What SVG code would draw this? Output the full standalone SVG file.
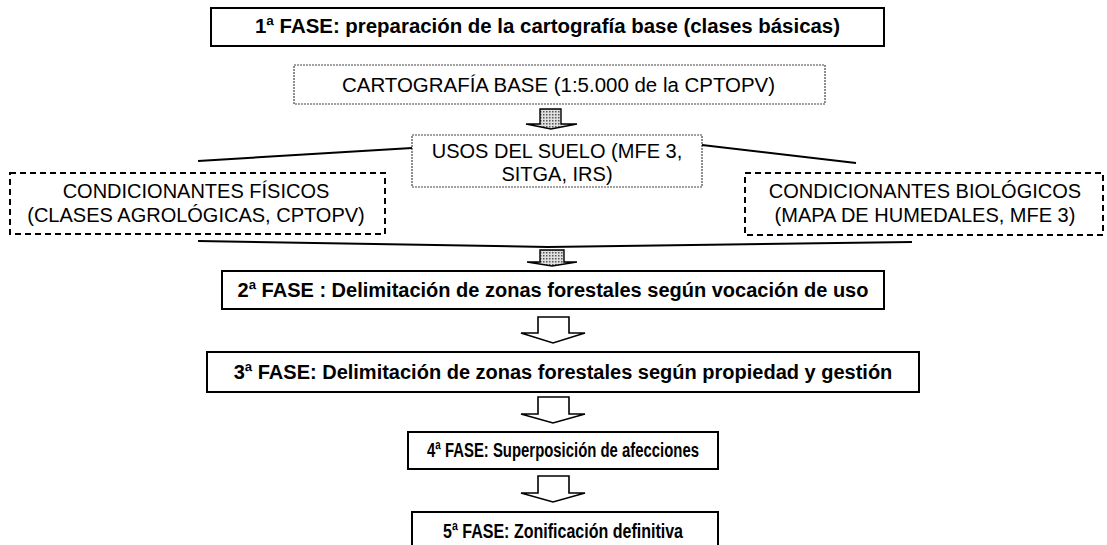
<svg xmlns="http://www.w3.org/2000/svg" width="1107" height="545" viewBox="0 0 1107 545">
<style>
  text { font-family: "Liberation Sans", Arial, sans-serif; font-size: 20px; fill: #000; text-anchor: middle; }
  .b { font-weight: bold; }
  .solid { fill: #fff; stroke: #000; stroke-width: 2; }
  .dotted { fill: #fff; stroke: #444; stroke-width: 1.2; stroke-dasharray: 2 1; }
  .dashed { fill: #fff; stroke: #000; stroke-width: 2; stroke-dasharray: 6 4; }
  .line { stroke: #000; stroke-width: 2; fill: none; }
  .hollow { fill: #fff; stroke: #000; stroke-width: 1.6; stroke-linejoin: miter; }
  .hatched { fill: url(#hatch); stroke: #000; stroke-width: 1.4; }
</style>
<defs>
  <pattern id="hatch" width="3" height="3" patternUnits="userSpaceOnUse">
    <rect width="3" height="3" fill="#e0e0e0"/>
    <rect width="1.5" height="1.5" fill="#555"/>
  </pattern>
</defs>

<g id="fase1">
  <rect class="solid" x="211" y="8" width="673" height="38"/>
  <text class="b" x="547.5" y="33" textLength="585" lengthAdjust="spacingAndGlyphs">1ª FASE: preparación de la cartografía base (clases básicas)</text>
</g>

<g id="cartografia">
  <rect class="dotted" x="294" y="65" width="531" height="39"/>
  <text x="558.5" y="92" textLength="433" lengthAdjust="spacingAndGlyphs">CARTOGRAFÍA BASE (1:5.000 de la CPTOPV)</text>
</g>

<g id="usos">
  <rect class="dotted" x="412" y="135" width="290" height="52"/>
  <text x="557" y="158">USOS DEL SUELO (MFE 3,</text>
  <text x="557" y="181">SITGA, IRS)</text>
</g>

<g id="fisicos">
  <rect class="dashed" x="10" y="173" width="375" height="61"/>
  <text x="196" y="198">CONDICIONANTES FÍSICOS</text>
  <text x="196" y="222">(CLASES AGROLÓGICAS, CPTOPV)</text>
</g>

<g id="biologicos">
  <rect class="dashed" x="745" y="173" width="358" height="62"/>
  <text x="925" y="198">CONDICIONANTES BIOLÓGICOS</text>
  <text x="925" y="222">(MAPA DE HUMEDALES, MFE 3)</text>
</g>

<g id="fase2">
  <rect class="solid" x="222" y="271" width="662" height="38"/>
  <text class="b" x="553" y="297">2ª FASE : Delimitación de zonas forestales según vocación de uso</text>
</g>

<g id="fase3">
  <rect class="solid" x="207" y="352" width="712" height="40"/>
  <text class="b" x="563" y="379">3ª FASE: Delimitación de zonas forestales según propiedad y gestión</text>
</g>

<g id="fase4">
  <rect class="solid" x="408" y="432" width="310" height="37"/>
  <text class="b" x="563" y="457" textLength="272" lengthAdjust="spacingAndGlyphs">4ª FASE: Superposición de afecciones</text>
</g>

<g id="fase5">
  <rect class="solid" x="412" y="512" width="306" height="40"/>
  <text class="b" x="563" y="538" textLength="240" lengthAdjust="spacingAndGlyphs">5ª FASE: Zonificación definitiva</text>
</g>

<g id="connectors">
  <line class="line" x1="198" y1="161" x2="412" y2="148"/>
  <line class="line" x1="702" y1="145" x2="856" y2="163"/>
  <line class="line" x1="198" y1="241" x2="548" y2="247"/>
  <line class="line" x1="548" y1="247" x2="912" y2="242"/>
  <path class="hatched" d="M540,109 H561 V124 H577 L551,129 L526,124 H540 Z"/>
  <path class="hatched" d="M540,250 H564 V262 H577 L552,266 L527,262 H540 Z"/>
  <path class="hollow" d="M538,317 H569 V333 H585 L553,343 L521,333 H538 Z"/>
  <path class="hollow" d="M538,397 H569 V414 H585 L553,423 L521,414 H538 Z"/>
  <path class="hollow" d="M538,476 H569 V493 H585 L553,502 L521,493 H538 Z"/>
</g>
</svg>
